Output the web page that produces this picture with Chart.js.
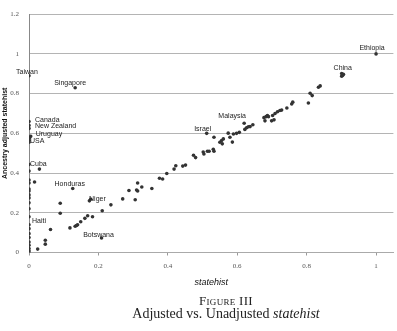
<!DOCTYPE html>
<html>
<head>
<meta charset="utf-8">
<script src="https://cdn.jsdelivr.net/npm/chart.js@4.4.1/dist/chart.umd.min.js"></script>
<style>
  html, body { margin: 0; padding: 0; background: #fff; }
  #wrap { position: relative; width: 397px; height: 331px; }
  #plot { position: absolute; left: 0; top: 0; }
  .cap {
    position: absolute; left: 0; width: 452px; text-align: center;
    font-family: "Liberation Serif", "DejaVu Serif", serif; color: #222; white-space: nowrap;
  }
  #fig { top: 293px; font-size: 13px; font-variant: small-caps; letter-spacing: 0.3px; }
  #sub { top: 306px; font-size: 14px; }
</style>
</head>
<body>
<div id="wrap">
  <canvas id="plot" width="397" height="331"></canvas>
  <div class="cap" id="fig">Figure III</div>
  <div class="cap" id="sub">Adjusted vs. Unadjusted <i>statehist</i></div>
</div>
<script>
// country names ('' = unlabelled), statehist and ancestry-adjusted statehist
const countries = [
  'Ethiopia', 'China', 'Malaysia', 'Israel', 'Taiwan', 'Singapore', 'Canada', 'New Zealand',
  'Uruguay', 'USA', 'Cuba', 'Honduras', 'Niger', 'Haiti', 'Botswana'
];
const statehist = [
  1.0, 0.904, 0.62, 0.512, 0.0, 0.133, 0.0, 0.0, 0.005, 0.0, 0.0, 0.126, 0.174, 0.0, 0.209,
  0.901, 0.906, 0.901,
  0.0, 0.0, 0.0, 0.03, 0.0, 0.016, 0.0, 0.0, 0.0, 0.0, 0.0, 0.0, 0.0, 0.0,
  0.0, 0.0, 0.0, 0.0, 0.0, 0.0, 0.0, 0.0, 0.0,
  0.025, 0.047, 0.047, 0.062, 0.09, 0.09,
  0.118, 0.133, 0.14, 0.137, 0.149, 0.161, 0.169, 0.183, 0.178,
  0.211, 0.236, 0.27, 0.288, 0.306, 0.31, 0.313, 0.313, 0.325, 0.354, 0.376, 0.385, 0.397,
  0.418, 0.423, 0.443, 0.451, 0.474, 0.48,
  0.502, 0.504, 0.514, 0.519, 0.531, 0.533, 0.533, 0.55, 0.555, 0.56, 0.557, 0.574, 0.579,
  0.586, 0.589, 0.598, 0.606,
  0.622, 0.627, 0.632, 0.637, 0.645,
  0.677, 0.683, 0.687, 0.69, 0.68, 0.702, 0.709, 0.716, 0.699, 0.706,
  0.723, 0.728, 0.743, 0.757, 0.76,
  0.805, 0.81, 0.816, 0.834, 0.839
];
const adjusted = [
  1.0, 0.892, 0.651, 0.60, 0.89, 0.83, 0.66, 0.64, 0.585, 0.565, 0.443, 0.322, 0.26, 0.18, 0.073,
  0.901, 0.897, 0.888,
  0.625, 0.575, 0.555, 0.42, 0.41, 0.355, 0.365, 0.35, 0.32, 0.31, 0.29, 0.275, 0.25, 0.22,
  0.14, 0.12, 0.095, 0.075, 0.053, 0.037, 0.02, 0.009, 0.0,
  0.017, 0.062, 0.042, 0.116, 0.248, 0.198,
  0.124, 0.132, 0.14, 0.136, 0.155, 0.172, 0.185, 0.18, 0.268,
  0.21, 0.24, 0.27, 0.312, 0.266, 0.315, 0.31, 0.35, 0.33, 0.322, 0.374, 0.37, 0.398,
  0.42, 0.437, 0.435, 0.44, 0.49, 0.478,
  0.506, 0.496, 0.51, 0.51, 0.52, 0.51, 0.58, 0.555, 0.564, 0.572, 0.547, 0.601, 0.58,
  0.556, 0.597, 0.60, 0.605,
  0.62, 0.628, 0.633, 0.634, 0.643,
  0.679, 0.684, 0.69, 0.684, 0.663, 0.69, 0.70, 0.709, 0.663, 0.668,
  0.715, 0.717, 0.728, 0.748, 0.757,
  0.753, 0.802, 0.79, 0.832, 0.839
];
const yTicks = [0, 0.2, 0.4, 0.6, 0.8, 1, 1.2];
const xTicks = [0, 0.2, 0.4, 0.6, 0.8, 1];

// where each country name sits relative to its dot (px)
const labelOffsets = {
  'Ethiopia': [-4, -6, 'center'], 'China': [0, -7, 'center'], 'Malaysia': [-12, -7, 'center'],
  'Israel': [-4, -4, 'center'], 'Taiwan': [-2, -4, 'center'], 'Singapore': [-5, -5, 'center'],
  'Canada': [6, -1, 'left'], 'New Zealand': [6, 1, 'left'], 'Uruguay': [5, -2, 'left'],
  'USA': [1, 1, 'left'], 'Cuba': [1, 0, 'left'], 'Honduras': [-3, -4, 'center'],
  'Niger': [8, -2, 'center'], 'Haiti': [3, 4, 'left'], 'Botswana': [-3, -3, 'center']
};

const points = statehist.map((x, i) => ({ x: x, y: adjusted[i] }));

const countryLabels = {
  id: 'countryLabels',
  afterDatasetsDraw(chart) {
    const { ctx, scales } = chart;
    ctx.save();
    ctx.font = '7px "Liberation Sans", Arial, sans-serif';
    ctx.fillStyle = '#222';
    ctx.textBaseline = 'middle';
    countries.forEach((name, i) => {
      const off = labelOffsets[name];
      const px = scales.x.getPixelForValue(statehist[i]) + off[0];
      const py = scales.y.getPixelForValue(adjusted[i]) + off[1];
      ctx.textAlign = off[2];
      ctx.fillText(name, px, py);
    });
    ctx.restore();
  }
};

new Chart(document.getElementById('plot'), {
  type: 'scatter',
  data: {
    datasets: [{
      data: points,
      pointRadius: 1.8,
      pointHoverRadius: 1.8,
      pointBorderWidth: 0,
      pointBackgroundColor: '#333'
    }]
  },
  options: {
    responsive: false,
    animation: false,
    events: [],
    layout: { padding: { left: 0, right: 3.6, top: 9.5, bottom: 40 } },
    plugins: { legend: { display: false }, tooltip: { enabled: false } },
    scales: {
      x: {
        type: 'linear', min: 0, max: 1.05,
        afterFit: s => { s.height = 38.5; },
        afterBuildTicks: s => { s.ticks = xTicks.map(v => ({ value: v })); },
        grid: { drawOnChartArea: false, drawTicks: true, tickLength: 3, color: '#999' },
        border: { color: '#aaa' },
        ticks: {
          padding: 6, color: '#555',
          font: { family: '"Liberation Serif", serif', size: 7 },
          callback: v => String(v)
        },
        title: {
          display: true, text: 'statehist', color: '#111',
          font: { family: '"Liberation Sans", Arial, sans-serif', size: 9, style: 'italic' },
          padding: { top: 0, bottom: 3 }
        }
      },
      y: {
        type: 'linear', min: 0, max: 1.2,
        afterFit: s => { s.width = 29; },
        afterBuildTicks: s => { s.ticks = yTicks.map(v => ({ value: v })); },
        grid: { drawTicks: false, color: '#b4b4b4', lineWidth: 1 },
        border: { color: '#888' },
        ticks: {
          padding: 10, color: '#555',
          font: { family: '"Liberation Serif", serif', size: 7 },
          callback: v => String(v)
        },
        title: {
          display: true, text: 'Ancestry adjusted statehist', color: '#111',
          font: { family: '"Liberation Sans", Arial, sans-serif', size: 7, weight: 'bold' },
          padding: { top: 1, bottom: 0 }
        }
      }
    }
  },
  plugins: [countryLabels]
});
</script>
</body>
</html>
